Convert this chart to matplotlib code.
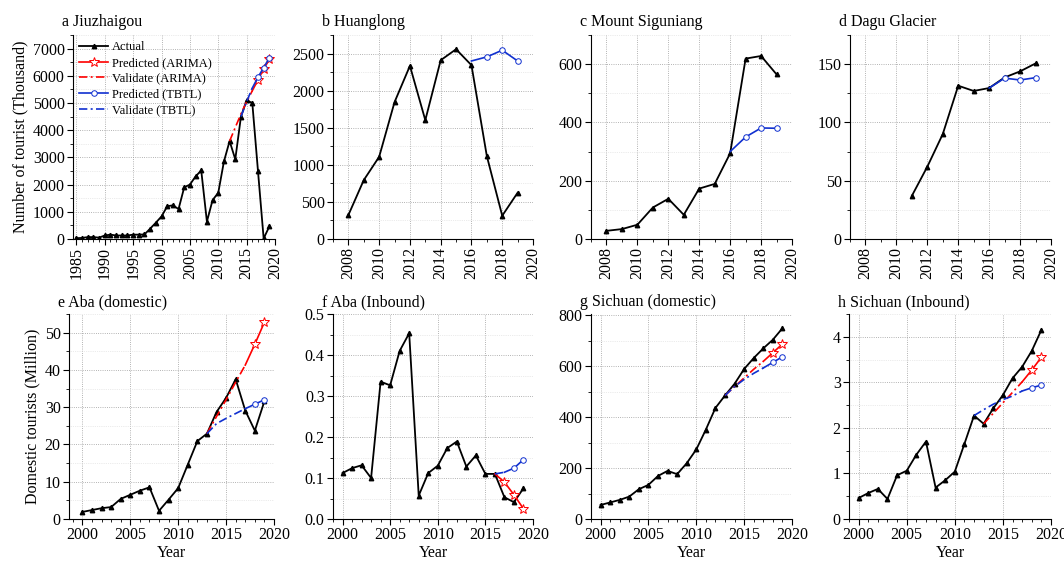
import numpy as np
import matplotlib.pyplot as plt
from matplotlib.ticker import MultipleLocator, FormatStrFormatter

plt.rcParams['font.family'] = ['Liberation Serif', 'DejaVu Serif']
plt.rcParams['font.size'] = 11.5

# a Jiuzhaigou (thousand)
jzg_years = list(range(1985, 2020))
jzg_actual = [30, 40, 70, 70, 50, 130, 160, 130, 130, 130, 160, 160, 170, 380, 600,
              830, 1200, 1240, 1100, 1900, 2000, 2300, 2520, 640, 1430, 1700, 2850,
              3600, 2930, 4500, 5100, 5000, 2500, 20, 460]
jzg_arima_val_x = [2012, 2013, 2014, 2015, 2016]
jzg_arima_val = [3600, 4100, 4600, 5050, 5450]
jzg_arima_pred_x = [2016, 2017, 2018, 2019]
jzg_arima_pred = [5450, 5850, 6250, 6600]
jzg_tbtl_val_x = [2014, 2015, 2016]
jzg_tbtl_val = [4500, 5050, 5550]
jzg_tbtl_pred_x = [2016, 2017, 2018, 2019]
jzg_tbtl_pred = [5550, 5950, 6300, 6650]

# b Huanglong (thousand)
hl_years = list(range(2008, 2020))
hl_actual = [323, 794, 1108, 1845, 2334, 1602, 2410, 2558, 2343, 1117, 314, 624]
hl_tbtl_pred_x = [2016, 2017, 2018, 2019]
hl_tbtl_pred = [2400, 2455, 2545, 2400]

# c Mount Siguniang (thousand)
sg_years = list(range(2008, 2020))
sg_actual = [28, 34, 49, 108, 138, 83, 173, 189, 294, 619, 628, 565]
sg_tbtl_pred_x = [2016, 2017, 2018, 2019]
sg_tbtl_pred = [300, 350, 381, 380]

# d Dagu Glacier (thousand)
dg_years = list(range(2011, 2020))
dg_actual = [37, 62, 90, 131.5, 127, 129.5, 138.6, 143.8, 150.6]
dg_tbtl_pred_x = [2016, 2017, 2018, 2019]
dg_tbtl_pred = [129.5, 138, 136.4, 138.4]

# e Aba domestic (million)
abad_years = list(range(2000, 2020))
abad_actual = [1.9, 2.4, 2.9, 3.2, 5.4, 6.5, 7.6, 8.5, 2.2, 5.2, 8.3, 14.6, 20.9,
               22.9, 28.7, 32.5, 37.5, 29.1, 23.7, 31.6]
abad_arima_val_x = [2013, 2014, 2015, 2016, 2017]
abad_arima_val = [22.9, 27.5, 32.0, 36.7, 41.3]
abad_arima_pred_x = [2017, 2018, 2019]
abad_arima_pred = [41.3, 46.9, 52.8]
abad_tbtl_val_x = [2013, 2014, 2015, 2016, 2017]
abad_tbtl_val = [22.9, 25.6, 27.0, 28.3, 29.6]
abad_tbtl_pred_x = [2017, 2018, 2019]
abad_tbtl_pred = [29.6, 30.8, 32.0]

# f Aba inbound (million)
abai_years = list(range(2000, 2020))
abai_actual = [0.112, 0.124, 0.131, 0.100, 0.335, 0.326, 0.410, 0.453, 0.057, 0.112,
               0.130, 0.173, 0.189, 0.128, 0.155, 0.110, 0.110, 0.053, 0.041, 0.075]
abai_arima_pred_x = [2016, 2017, 2018, 2019]
abai_arima_pred = [0.110, 0.090, 0.059, 0.025]
abai_tbtl_val_x = [2016, 2017]
abai_tbtl_val = [0.110, 0.114]
abai_tbtl_pred_x = [2017, 2018, 2019]
abai_tbtl_pred = [0.114, 0.124, 0.145]

# g Sichuan domestic (million)
scd_years = list(range(2000, 2020))
scd_actual = [55, 65, 75, 88, 117, 134, 169, 189, 176, 219, 273, 351, 436, 485, 531,
              589, 632, 670, 704, 749]
scd_arima_val_x = [2013, 2014, 2015, 2016, 2017]
scd_arima_val = [485, 520, 554, 588, 619]
scd_arima_pred_x = [2017, 2018, 2019]
scd_arima_pred = [619, 653, 687]
scd_tbtl_val_x = [2013, 2014, 2015, 2016, 2017]
scd_tbtl_val = [485, 520, 548, 572, 593]
scd_tbtl_pred_x = [2017, 2018, 2019]
scd_tbtl_pred = [593, 615, 637]

# h Sichuan inbound (million)
sci_years = list(range(2000, 2020))
sci_actual = [0.46, 0.57, 0.66, 0.44, 0.96, 1.06, 1.41, 1.70, 0.69, 0.85, 1.04, 1.65,
              2.27, 2.09, 2.43, 2.72, 3.09, 3.34, 3.69, 4.15]
sci_arima_val_x = [2013, 2014, 2015, 2016, 2017]
sci_arima_val = [2.09, 2.32, 2.55, 2.78, 3.01]
sci_arima_pred_x = [2017, 2018, 2019]
sci_arima_pred = [3.01, 3.27, 3.55]
sci_tbtl_val_x = [2012, 2013, 2014, 2015, 2016, 2017]
sci_tbtl_val = [2.27, 2.40, 2.52, 2.62, 2.70, 2.81]
sci_tbtl_pred_x = [2017, 2018, 2019]
sci_tbtl_pred = [2.81, 2.88, 2.94]

W, H = 1064, 562
fig = plt.figure(figsize=(W / 100, H / 100), dpi=100)


def rect(l, r, t, b):
    return [l / W, 1 - b / H, (r - l) / W, (b - t) / H]


DASHDOT = (0, (5, 2, 1.2, 2))

panels = [
    dict(title="a Jiuzhaigou", pos=rect(73, 275, 35, 239), x=jzg_years, y=jzg_actual,
         av=(jzg_arima_val_x, jzg_arima_val), ap=(jzg_arima_pred_x, jzg_arima_pred),
         tv=(jzg_tbtl_val_x, jzg_tbtl_val), tp=(jzg_tbtl_pred_x, jzg_tbtl_pred),
         xlim=(1984.4, 2020), xmaj=5, ylim=(0, 7500), ymaj=1000, fmt=None, top=True),
    dict(title="b Huanglong", pos=rect(333, 533, 35, 239), x=hl_years, y=hl_actual,
         tp=(hl_tbtl_pred_x, hl_tbtl_pred),
         xlim=(2007, 2020), xmaj=2, ylim=(0, 2750), ymaj=500, fmt=None, top=True),
    dict(title="c Mount Siguniang", pos=rect(591, 792, 35, 239), x=sg_years, y=sg_actual,
         tp=(sg_tbtl_pred_x, sg_tbtl_pred),
         xlim=(2007, 2020), xmaj=2, ylim=(0, 700), ymaj=200, fmt=None, top=True),
    dict(title="d Dagu Glacier", pos=rect(850, 1051, 35, 239), x=dg_years, y=dg_actual,
         tp=(dg_tbtl_pred_x, dg_tbtl_pred),
         xlim=(2007, 2020), xmaj=2, ylim=(0, 175), ymaj=50, fmt=None, top=True),
    dict(title="e Aba (domestic)", pos=rect(69, 274, 314, 519), x=abad_years, y=abad_actual,
         av=(abad_arima_val_x, abad_arima_val), ap=(abad_arima_pred_x, abad_arima_pred),
         tv=(abad_tbtl_val_x, abad_tbtl_val), tp=(abad_tbtl_pred_x, abad_tbtl_pred),
         xlim=(1998.6, 2020), xmaj=5, ylim=(0, 55), ymaj=10, fmt=None, top=False),
    dict(title="f Aba (Inbound)", pos=rect(333, 533, 314, 519), x=abai_years, y=abai_actual,
         ap=(abai_arima_pred_x, abai_arima_pred),
         tv=(abai_tbtl_val_x, abai_tbtl_val), tp=(abai_tbtl_pred_x, abai_tbtl_pred),
         xlim=(1999, 2020), xmaj=5, ylim=(0, 0.5), ymaj=0.1, fmt="%.1f", top=False),
    dict(title="g Sichuan (domestic)", pos=rect(591, 792, 314, 519), x=scd_years, y=scd_actual,
         av=(scd_arima_val_x, scd_arima_val), ap=(scd_arima_pred_x, scd_arima_pred),
         tv=(scd_tbtl_val_x, scd_tbtl_val), tp=(scd_tbtl_pred_x, scd_tbtl_pred),
         xlim=(1999, 2020), xmaj=5, ylim=(0, 805), ymaj=200, fmt=None, top=False),
    dict(title="h Sichuan (Inbound)", pos=rect(849, 1051, 314, 519), x=sci_years, y=sci_actual,
         av=(sci_arima_val_x, sci_arima_val), ap=(sci_arima_pred_x, sci_arima_pred),
         tv=(sci_tbtl_val_x, sci_tbtl_val), tp=(sci_tbtl_pred_x, sci_tbtl_pred),
         xlim=(1999, 2020), xmaj=5, ylim=(0, 4.5), ymaj=1, fmt=None, top=False),
]

for i, p in enumerate(panels):
    ax = fig.add_axes(p["pos"])
    ax.grid(True, which="major", linestyle=":", color="#9a9a9a", linewidth=0.6)
    ax.grid(True, which="minor", axis="y", linestyle=":", color="#d8d8d8", linewidth=0.5)
    ax.set_axisbelow(True)

    ax.plot(p["x"], p["y"], color="black", lw=1.3, marker="^", ms=3.2, label="Actual", zorder=3)
    if "ap" in p:
        xs, ys = p["ap"]
        ax.plot(xs, ys, color="red", lw=1.2, marker="*", ms=7, mfc="white", mec="red",
                mew=0.7, markevery=list(range(1, len(xs))), label="Predicted (ARIMA)", zorder=4)
    if "av" in p:
        xs, ys = p["av"]
        ax.plot(xs, ys, color="red", lw=1.2, linestyle=DASHDOT, label="Validate (ARIMA)", zorder=4)
    if "tp" in p:
        xs, ys = p["tp"]
        ax.plot(xs, ys, color="#1030d0", lw=1.2, marker="o", ms=4, mfc="white", mec="#1030d0",
                mew=0.7, markevery=list(range(1, len(xs))), label="Predicted (TBTL)", zorder=4)
    if "tv" in p:
        xs, ys = p["tv"]
        ax.plot(xs, ys, color="#1030d0", lw=1.2, linestyle=DASHDOT, label="Validate (TBTL)", zorder=4)

    ax.set_xlim(*p["xlim"])
    ax.set_ylim(*p["ylim"])
    ax.xaxis.set_major_locator(MultipleLocator(p["xmaj"]))
    ax.xaxis.set_minor_locator(MultipleLocator(1))
    ax.yaxis.set_major_locator(MultipleLocator(p["ymaj"]))
    ax.yaxis.set_minor_locator(MultipleLocator(p["ymaj"] / 2))
    if p["fmt"]:
        ax.yaxis.set_major_formatter(FormatStrFormatter(p["fmt"]))

    for s in ("top", "right"):
        ax.spines[s].set_visible(False)
    ax.tick_params(which="major", direction="out", length=4, width=0.8, labelsize=11.5, pad=2)
    ax.tick_params(which="minor", direction="out", length=2, width=0.6)

    if p["top"]:
        ax.tick_params(axis="x", labelrotation=90)
    else:
        ax.set_xlabel("Year", fontsize=11.5, labelpad=1)

    bbox = p["pos"]
    wpx, hpx = bbox[2] * W, bbox[3] * H
    ax.text(-11 / wpx, 1 + (8.5 if p["top"] else 7.5) / hpx, p["title"],
            transform=ax.transAxes, fontsize=11.5, ha="left", va="baseline")

    if i == 0:
        ax.set_ylabel("Number of tourist (Thousand)", fontsize=11.5, labelpad=3)
        h, l = ax.get_legend_handles_labels()
        order = ["Actual", "Predicted (ARIMA)", "Validate (ARIMA)", "Predicted (TBTL)", "Validate (TBTL)"]
        hh = [h[l.index(o)] for o in order]
        ax.legend(hh, order, loc="upper left", frameon=False, fontsize=9, handlelength=2.3,
                  borderaxespad=0.1, labelspacing=0.3, handletextpad=0.3)
    if i == 4:
        ax.set_ylabel("Domestic tourists (Million)", fontsize=11.5, labelpad=3)

fig.savefig("out.png", dpi=100)
